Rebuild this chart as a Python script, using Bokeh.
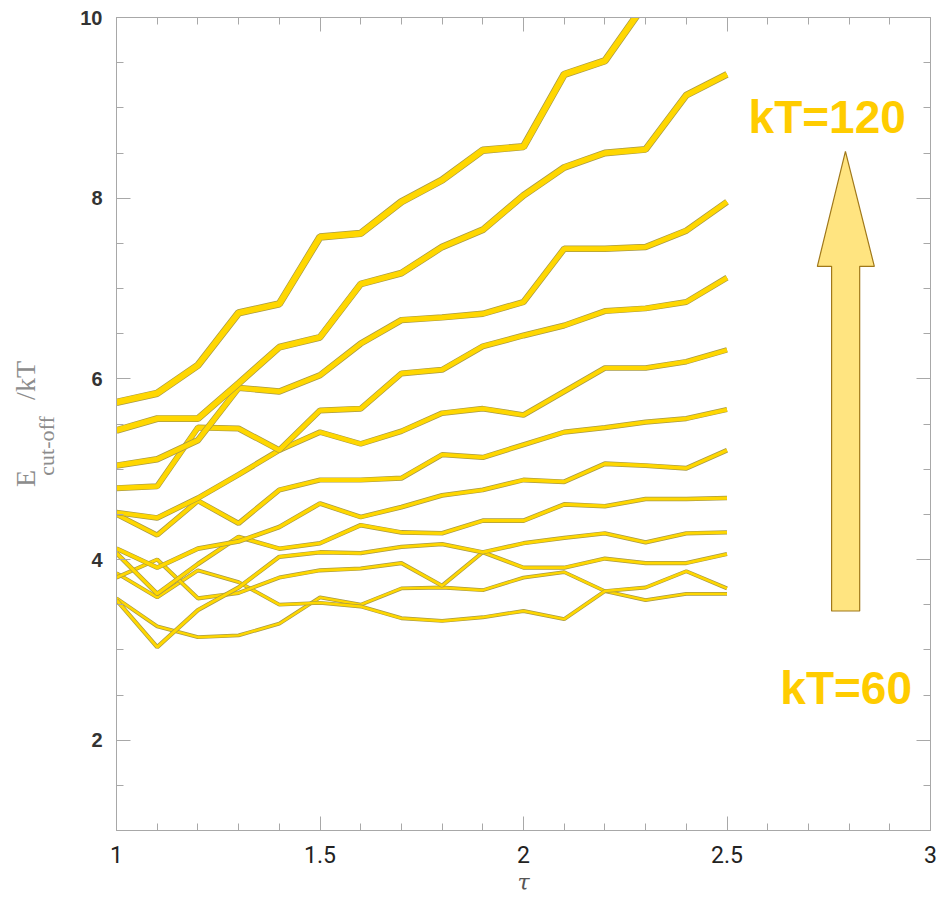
from bokeh.plotting import figure
from bokeh.models import (LinearAxis, Range1d, Label, PolyAnnotation, Title,
                          SingleIntervalTicker, CustomJSTickFormatter)
from bokeh.embed import file_html
from bokeh.resources import INLINE

# ---------------- data ----------------
tau = [1.0, 1.1, 1.2, 1.3, 1.4, 1.5, 1.6, 1.7, 1.8, 1.9, 2.0, 2.1, 2.2, 2.3, 2.4, 2.5]

# curves ordered from highest kT (top, thickest) to lowest kT
curve_01 = [5.74, 5.84, 6.15, 6.73, 6.83, 7.57, 7.61, 7.96, 8.20, 8.53, 8.57, 9.37, 9.52, 10.16, 10.60, 11.00]
curve_02 = [5.43, 5.56, 5.56, 5.95, 6.35, 6.46, 7.05, 7.17, 7.46, 7.65, 8.03, 8.34, 8.50, 8.54, 9.14, 9.37]
curve_03 = [5.04, 5.11, 5.32, 5.90, 5.86, 6.04, 6.39, 6.65, 6.68, 6.72, 6.85, 7.44, 7.44, 7.46, 7.64, 7.96]
curve_04 = [4.79, 4.81, 5.46, 5.45, 5.21, 5.65, 5.67, 6.06, 6.10, 6.36, 6.48, 6.59, 6.75, 6.78, 6.85, 7.12]
curve_05 = [4.52, 4.46, 4.68, 4.94, 5.21, 5.41, 5.28, 5.42, 5.62, 5.67, 5.60, 5.86, 6.12, 6.12, 6.19, 6.32]
curve_06 = [4.50, 4.27, 4.65, 4.40, 4.77, 4.88, 4.88, 4.90, 5.16, 5.13, 5.27, 5.41, 5.46, 5.52, 5.56, 5.66]
curve_07 = [4.12, 3.91, 4.12, 4.20, 4.36, 4.62, 4.47, 4.58, 4.71, 4.77, 4.88, 4.86, 5.06, 5.04, 5.01, 5.21]
curve_08 = [4.07, 3.62, 3.95, 4.25, 4.12, 4.18, 4.38, 4.30, 4.29, 4.43, 4.43, 4.61, 4.59, 4.67, 4.67, 4.68]
curve_09 = [3.55, 3.03, 3.44, 3.69, 4.03, 4.08, 4.07, 4.14, 4.17, 4.08, 4.18, 4.24, 4.29, 4.19, 4.29, 4.30]
curve_10 = [3.80, 4.00, 3.57, 3.63, 3.80, 3.88, 3.90, 3.96, 3.71, 4.08, 3.91, 3.91, 4.01, 3.96, 3.96, 4.06]
curve_11 = [3.85, 3.58, 3.88, 3.75, 3.50, 3.52, 3.48, 3.35, 3.32, 3.36, 3.43, 3.34, 3.65, 3.69, 3.87, 3.68]
curve_12 = [3.57, 3.26, 3.14, 3.16, 3.29, 3.58, 3.50, 3.68, 3.69, 3.66, 3.80, 3.86, 3.65, 3.55, 3.62, 3.62]

curves = [curve_01, curve_02, curve_03, curve_04, curve_05, curve_06,
          curve_07, curve_08, curve_09, curve_10, curve_11, curve_12]
widths = [6.0, 5.5, 5.0, 4.6, 4.2, 3.8, 3.4, 3.2, 2.9, 2.7, 2.5, 2.4]

x_tick_values = [1, 1.5, 2, 2.5, 3]
x_tick_labels = ["1", "1.5", "2", "2.5", "3"]

label_high = "kT=120"
label_low = "kT=60"

# ---------------- styling ----------------
GOLD = "#FFD700"
EDGE = "#A89A45"
AXIS = "#A8A8A8"
TITLE = "#8C8C8C"

p = figure(width=948, height=897,
           x_range=Range1d(1, 3), y_range=Range1d(1, 10),
           output_backend="svg", toolbar_location=None,
           min_border_left=116, min_border_right=18,
           min_border_top=17, min_border_bottom=67,
           background_fill_color="white", border_fill_color="white")
p.outline_line_color = AXIS
p.xgrid.grid_line_color = None
p.ygrid.grid_line_color = None

xt = SingleIntervalTicker(interval=0.5, num_minor_ticks=5)
yt = SingleIntervalTicker(interval=2, num_minor_ticks=4)

for ax in p.xaxis:
    ax.ticker = xt
    ax.major_label_overrides = dict(zip(x_tick_values, x_tick_labels))
    ax.major_label_text_font = "Liberation Sans Narrow, Roboto, sans-serif"
    ax.major_label_text_font_size = "23px"
    ax.major_label_text_color = "#222222"
    ax.major_label_standoff = 15
    ax.axis_label = "τ"
    ax.axis_label_text_font = "DejaVu Serif"
    ax.axis_label_text_font_style = "italic"
    ax.axis_label_text_font_size = "22px"
    ax.axis_label_text_color = "#555555"
    ax.axis_label_standoff = 4
for ax in p.yaxis:
    ax.ticker = yt
    ax.major_label_text_font = "Liberation Sans"
    ax.major_label_text_font_style = "bold"
    ax.major_label_text_font_size = "20px"
    ax.major_label_text_color = "#333333"
    ax.major_label_standoff = 14
    # subscript part of the y title, shifted down with trailing em spaces
    ax.axis_label = "cut-off\u2003\u2003"
    ax.axis_label_text_font = "Liberation Serif"
    ax.axis_label_text_font_style = "normal"
    ax.axis_label_text_font_size = "22px"
    ax.axis_label_text_color = TITLE
    ax.axis_label_standoff = 18

for ax in list(p.xaxis) + list(p.yaxis):
    ax.axis_line_color = AXIS
    ax.major_tick_line_color = AXIS
    ax.minor_tick_line_color = AXIS
    ax.major_tick_in = 14
    ax.major_tick_out = 0
    ax.minor_tick_in = 7
    ax.minor_tick_out = 0

blank = CustomJSTickFormatter(code="return ''")
top = LinearAxis(ticker=SingleIntervalTicker(interval=0.5, num_minor_ticks=5),
                 formatter=blank, major_label_text_font_size="1px",
                 major_label_standoff=0,
                 axis_line_color=AXIS, major_tick_line_color=AXIS,
                 minor_tick_line_color=AXIS, major_tick_in=14, major_tick_out=0,
                 minor_tick_in=7, minor_tick_out=0)
right = LinearAxis(ticker=SingleIntervalTicker(interval=2, num_minor_ticks=4),
                   formatter=blank, major_label_text_font_size="1px",
                   major_label_standoff=0,
                   axis_line_color=AXIS, major_tick_line_color=AXIS,
                   minor_tick_line_color=AXIS, major_tick_in=14, major_tick_out=0,
                   minor_tick_in=7, minor_tick_out=0)
p.add_layout(top, "above")
p.add_layout(right, "right")

# main part of the y title: "E" ... "/kT" (gap leaves room for the subscript)
p.add_layout(Title(text="E\u2003\u2003\u2002/kT", align="center", offset=-10,
                   standoff=-19, text_font="Liberation Serif",
                   text_font_style="normal", text_font_size="28px",
                   text_color=TITLE), "left")

# curves: lowest kT first so thick ones lie on top
for ys, w in reversed(list(zip(curves, widths))):
    p.line(tau, ys, line_width=w + 1.4, line_color=EDGE)
    p.line(tau, ys, line_width=w, line_color=GOLD)

# arrow (annotation)
arrow_xs = [2.791, 2.862, 2.826, 2.826, 2.757, 2.757, 2.722]
arrow_ys = [8.517, 7.245, 7.245, 3.43, 3.43, 7.245, 7.245]
p.add_layout(PolyAnnotation(xs=arrow_xs, ys=arrow_ys, fill_color="#FFE480",
                            fill_alpha=1.0, line_color="#A0781A", line_width=1.2,
                            line_alpha=1.0))

p.add_layout(Label(x=2.553, y=8.893, text=label_high, text_font="Liberation Sans",
                   text_font_style="bold", text_font_size="46px",
                   text_color="#FFCC00", text_baseline="alphabetic"))
p.add_layout(Label(x=2.631, y=2.575, text=label_low, text_font="Liberation Sans",
                   text_font_style="bold", text_font_size="46px",
                   text_color="#FFCC00", text_baseline="alphabetic"))

open("out.html", "w").write(file_html(p, INLINE))
